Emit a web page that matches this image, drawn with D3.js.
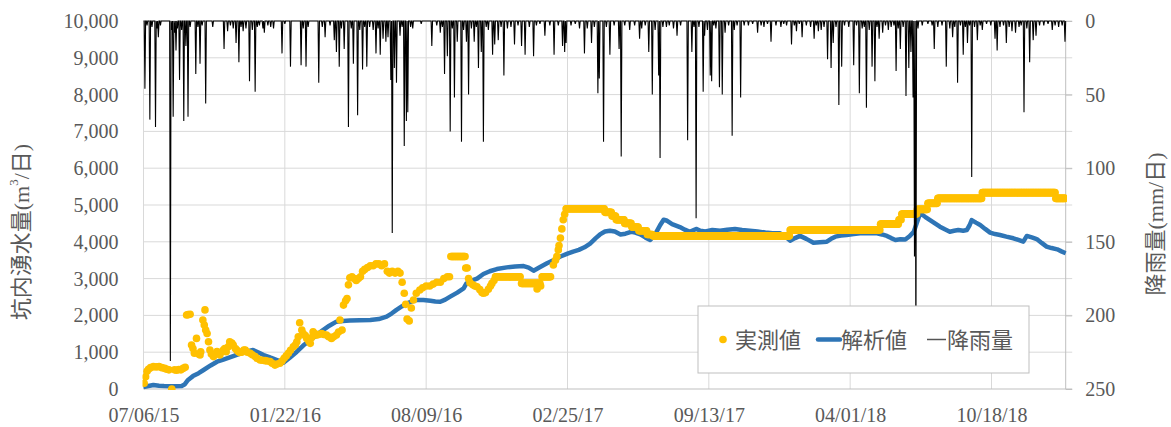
<!DOCTYPE html>
<html>
<head>
<meta charset="utf-8">
<script src="https://cdn.jsdelivr.net/npm/d3@7"></script>
<style>
  body { margin: 0; background: #fff; }
</style>
</head>
<body>
<script>
// chart size
const width = 1171;
const height = 427;
const margin = {left: 143.5, right: 1171 - 1065.7, top: 21, bottom: 427 - 389};

// first day of the record, all days below count from here
const startDay = "2015-07-06";
const endDay = "2019-01-31";
const tickDates = ["2015-07-06", "2016-01-22", "2016-08-09", "2017-02-25", "2017-09-13", "2018-04-01", "2018-10-18"];
const leftTicks = [0, 1000, 2000, 3000, 4000, 5000, 6000, 7000, 8000, 9000, 10000];
const rightTicks = [0, 50, 100, 150, 200, 250];
const legendItems = ["実測値", "解析値", "降雨量"];

// 実測値 : single readings [day, m3/day]
const measuredPoints = [
  [1,155],[3,330],[5,480],[7,535],[10,580],[14,607],[18,600],[22,607],[26,580],[30,560],[33,535],[36,520],[40,0],[44,520],[47,510],[50,530],[53,520],[56,560],[59,590],
  [61,2010],[63,2020],[66,2030],[68,1195],[70,1100],[72,970],[75,1375],[78,950],[80,925],[81,1010],[84,1875],[86,1740],[87,2150],[88,1600],[90,1510],[92,1285],[94,1060],[96,950],[99,880],
  [101,950],[104,1015],[106,980],[108,925],[110,1000],[113,1060],[115,1100],[117,1015],[120,1150],[122,1285],[125,1250],[127,1195],[130,1100],[132,1060],[134,1020],[136,990],[139,1000],
  [142,1060],[144,1060],[147,1000],[151,970],[154,930],[158,880],[161,830],[165,790],[168,780],[172,770],[175,760],[179,745],[182,700],[186,650],[189,680],[193,700],[196,760],[199,835],
  [202,900],[205,970],[208,1050],[212,1150],[215,1200],[217,1285],[219,1420],[221,1800],[224,1600],[226,1510],[229,1450],[231,1375],[234,1300],[236,1240],[238,1400],[240,1555],[243,1500],
  [245,1465],[248,1480],[252,1510],[255,1480],[259,1465],[262,1420],[266,1375],[269,1420],[273,1465],[276,1550],[278,1875],[281,1600],[283,2280],[286,2400],[288,2460],
  [290,2830],[292,3020],[295,3050],[298,3000],[301,2950],[304,3000],[307,3050],[310,3200],[313,3250],[317,3300],[321,3350],[325,3350],[329,3400],[333,3400],[337,3350],[341,3400],
  [345,3200],[348,3150],[352,3200],[356,3150],[360,3200],[363,3150],[366,2900],[369,2600],[371,2300],[373,1900],[376,1850],[379,2200],[382,2420],[386,2600],[391,2690],[395,2750],
  [400,2800],[405,2800],[410,2850],[415,2900],[420,2900],[425,3000],[430,3050],[433,3050],
  [456,3290],[458,3290],[460,3000],[462,2890],[466,2830],[469,2800],[472,2780],[476,2700],[479,2620],[481,2600],[484,2620],[488,2710],[491,2800],[493,2870],[496,2950],
  [557,2720],[562,2800],[580,3370],[583,3500],[585,3600],[587,3780],[588,3900],[590,4100],[592,4350],[594,4600],[596,4750]
];
// 実測値 : flat runs [first day, last day, m3/day]
const measuredRuns = [
  [435,455,3600],[498,533,3050],[535,561,2870],[564,576,3050],[598,652,4900],[653,662,4800],[663,668,4700],
  [669,680,4600],[681,690,4500],[691,700,4400],[701,712,4300],[713,720,4200],[721,914,4160],[915,1042,4320],
  [1043,1068,4480],[1069,1072,4600],[1073,1094,4755],[1095,1109,4880],[1110,1123,5045],[1124,1186,5180],
  [1187,1290,5335],[1291,1305,5180]
];

// 解析値 [day, m3/day]
const simulated = [
  [0,50],[7,80],[14,110],[22,90],[29,80],[40,75],[54,80],[58,120],[63,245],[70,350],[78,430],[85,516],[95,640],[104,742],[113,800],[122,860],[131,920],[141,987],[148,1030],[155,1060],
  [162,1000],[170,924],[180,850],[189,788],[198,715],[207,850],[217,1014],[226,1180],[236,1330],[245,1470],[254,1600],[263,1720],[273,1830],[282,1850],[292,1860],[306,1870],[321,1875],
  [333,1900],[344,1965],[351,2050],[358,2150],[366,2250],[373,2330],[380,2380],[387,2420],[396,2420],[406,2400],[413,2380],[420,2370],[427,2430],[434,2510],[444,2620],[453,2735],
  [457,2870],[465,2950],[472,3000],[481,3125],[490,3200],[500,3260],[514,3305],[526,3330],[538,3340],[545,3300],[552,3215],[560,3300],[571,3415],[580,3500],[590,3600],[600,3680],
  [608,3735],[616,3780],[624,3850],[632,3950],[640,4100],[646,4200],[653,4280],[660,4300],[667,4280],[675,4200],[682,4220],[690,4270],[696,4250],[703,4200],[710,4120],[717,4050],
  [724,4200],[731,4450],[736,4600],[740,4580],[748,4480],[759,4400],[766,4330],[773,4270],[782,4350],[788,4300],[795,4280],[805,4320],[816,4300],[826,4330],[837,4350],[847,4320],
  [858,4300],[869,4280],[880,4250],[890,4230],[901,4230],[908,4150],[915,4030],[922,4100],[929,4160],[938,4080],[948,3975],[957,3990],[967,4003],[973,4080],[979,4140],[987,4170],
  [995,4185],[1005,4210],[1014,4230],[1025,4230],[1038,4230],[1045,4200],[1052,4160],[1058,4100],[1064,4050],[1071,4070],[1078,4060],[1084,4150],[1090,4275],[1094,4500],[1099,4775],
  [1106,4680],[1113,4590],[1120,4500],[1127,4410],[1134,4340],[1141,4275],[1147,4300],[1153,4320],[1160,4300],[1165,4320],[1169,4450],[1172,4590],[1178,4520],[1184,4455],[1191,4350],
  [1198,4250],[1205,4210],[1212,4185],[1221,4140],[1231,4095],[1238,4050],[1245,4005],[1250,4160],[1257,4120],[1264,4075],[1271,3970],[1278,3870],[1285,3830],[1293,3795],[1299,3740],[1305,3690]
];

// 降雨量 : rainy days [day, mm/day], every other day is 0
const rainDays = [
  [2,46],[5,3],[9,67],[12,4],[17,72],[19,5],[21,11],[24,3],[38,231],[40,6],[42,65],[44,8],[46,20],[48,5],[51,40],[54,6],[57,68],[60,17],[63,65],[66,4],[74,36],[77,4],[80,29],[83,3],[88,56],
  [98,4],[114,19],[119,7],[123,3],[127,5],[131,15],[135,28],[138,4],[141,7],[145,5],[150,41],[154,6],[158,48],[161,4],[164,3],[169,5],[171,8],[176,3],[180,4],[184,5],[196,22],[200,2],
  [208,31],[223,30],[226,5],[230,31],[233,4],[248,42],[253,4],[257,11],[264,3],[270,13],[273,21],[277,31],[280,5],[284,19],[290,72],[294,5],[297,29],[303,64],[306,6],[310,33],[313,4],
  [316,31],[320,4],[325,6],[329,22],[332,5],[335,23],[339,12],[343,14],[346,11],[350,40],[352,144],[355,32],[358,42],[363,10],[366,4],[369,85],[372,68],[374,62],[378,4],[381,5],[393,2],
  [408,17],[415,3],[420,8],[423,4],[426,36],[430,24],[434,75],[437,5],[440,52],[444,14],[450,82],[453,6],[457,14],[460,50],[464,5],[468,14],[471,4],[474,32],[478,21],[481,82],[485,4],
  [488,6],[494,23],[497,16],[502,13],[506,4],[510,37],[515,5],[520,4],[525,16],[530,3],[535,17],[540,23],[546,4],[552,24],[556,3],[561,2],[568,10],[575,3],[581,23],[587,3],[593,17],
  [596,21],[598,15],[605,3],[611,2],[617,5],[624,22],[628,5],[634,15],[638,4],[643,49],[645,39],[651,82],[655,4],[660,23],[666,3],[673,19],[676,92],[681,3],[688,6],[695,3],[702,12],
  [705,5],[710,3],[715,21],[720,50],[724,6],[729,37],[731,93],[735,4],[740,4],[744,3],[750,5],[755,10],[760,3],[770,81],[776,21],[779,4],[782,134],[786,4],[792,48],[794,10],[798,6],
  [802,37],[804,41],[807,3],[810,5],[815,45],[819,50],[823,8],[828,3],[833,78],[836,6],[840,3],[845,52],[850,3],[856,3],[862,2],[869,8],[874,3],[878,4],[883,2],[888,14],[895,3],
  [902,4],[906,2],[910,3],[917,16],[921,3],[924,7],[928,2],[932,11],[938,3],[944,4],[949,12],[952,3],[955,7],[959,6],[963,4],[968,26],[973,32],[976,15],[980,4],[984,57],[988,31],
  [992,3],[998,4],[1005,30],[1009,3],[1013,49],[1017,5],[1020,4],[1023,59],[1027,6],[1031,31],[1035,41],[1038,4],[1041,12],[1046,8],[1050,3],[1054,6],[1058,4],[1062,3],[1065,34],
  [1068,5],[1071,19],[1075,4],[1079,51],[1083,32],[1086,21],[1089,52],[1091,160],[1093,230],[1096,5],[1102,3],[1110,2],[1116,3],[1119,19],[1124,4],[1130,3],[1136,31],[1141,5],
  [1145,11],[1148,4],[1152,42],[1156,3],[1160,23],[1163,4],[1166,15],[1169,3],[1172,106],[1176,4],[1180,13],[1184,3],[1187,6],[1193,2],[1199,3],[1205,12],[1208,20],[1212,4],
  [1217,3],[1221,15],[1225,4],[1229,7],[1234,8],[1239,4],[1242,3],[1246,62],[1250,5],[1254,28],[1259,13],[1263,10],[1268,3],[1274,3],[1280,2],[1286,6],[1290,3],[1295,4],[1300,3],[1304,14]
];

const colors = {measured: "#FFC000", simulated: "#2E75B6", rain: "#000000", grid: "#D9D9D9", axis: "#BFBFBF", text: "#595959"};
const serif = "'Liberation Serif', serif";
const jp = "'Liberation Serif', 'Noto Sans CJK JP', serif";

document.addEventListener('DOMContentLoaded', function() {
  const t0 = new Date(startDay + "T00:00:00Z");
  const dayToDate = (d) => new Date(t0.getTime() + d * 864e5);
  const nDays = Math.round((new Date(endDay + "T00:00:00Z") - t0) / 864e5);

  const x = d3.scaleUtc()
    .domain([t0, new Date(endDay + "T00:00:00Z")])
    .range([margin.left, width - margin.right]);
  const yL = d3.scaleLinear().domain([0, 10000]).range([height - margin.bottom, margin.top]);
  const yR = d3.scaleLinear().domain([0, 250]).range([margin.top, height - margin.bottom]);

  const svg = d3.select('body').append('svg')
    .attr("width", width)
    .attr("height", height);

  svg.append("defs").append("clipPath").attr("id", "plot-clip")
    .append("rect")
    .attr("x", margin.left - 1).attr("y", margin.top - 1)
    .attr("width", width - margin.right - margin.left + 2)
    .attr("height", height - margin.bottom - margin.top + 2);

  // gridlines
  svg.append("g").selectAll("line.hgrid")
    .data(leftTicks.slice(1))
    .enter().append("line")
    .attr("x1", margin.left).attr("x2", width - margin.right + 6.5)
    .attr("y1", d => yL(d)).attr("y2", d => yL(d))
    .attr("stroke", colors.grid).attr("stroke-width", 1);

  svg.append("g").selectAll("line.vgrid")
    .data(tickDates)
    .enter().append("line")
    .attr("x1", d => x(new Date(d + "T00:00:00Z"))).attr("x2", d => x(new Date(d + "T00:00:00Z")))
    .attr("y1", margin.top).attr("y2", height - margin.bottom)
    .attr("stroke", colors.grid).attr("stroke-width", 1);

  // axis lines
  svg.append("line")
    .attr("x1", margin.left).attr("x2", width - margin.right + 6.5)
    .attr("y1", yL(0)).attr("y2", yL(0))
    .attr("stroke", colors.axis);
  svg.append("line")
    .attr("x1", width - margin.right).attr("x2", width - margin.right)
    .attr("y1", margin.top).attr("y2", height - margin.bottom)
    .attr("stroke", colors.axis);

  // axes labels with d3 axis generators
  const fmt = d3.format(",");
  const leftAxis = svg.append("g")
    .attr("transform", `translate(${margin.left},0)`)
    .call(d3.axisLeft(yL).tickValues(leftTicks).tickFormat(fmt).tickSize(0).tickPadding(25));
  const rightAxis = svg.append("g")
    .attr("transform", `translate(${width - margin.right},0)`)
    .call(d3.axisRight(yR).tickValues(rightTicks).tickSize(6.5).tickPadding(13));
  const bottomAxis = svg.append("g")
    .attr("transform", `translate(0,${height - margin.bottom})`)
    .call(d3.axisBottom(x).tickValues(tickDates.map(d => new Date(d + "T00:00:00Z")))
      .tickFormat(d3.utcFormat("%m/%d/%y")).tickSize(0).tickPadding(19));

  [leftAxis, rightAxis, bottomAxis].forEach(g => {
    g.attr("font-family", serif).attr("font-size", 20);
    g.select(".domain").remove();
    g.selectAll("text")
      .attr("fill", colors.text)
      .style("font-family", serif)
      .style("font-size", "20px");
  });
  rightAxis.selectAll("line").attr("stroke", colors.axis);

  // axis titles
  svg.append("text")
    .attr("transform", `translate(21,232) rotate(-90)`)
    .attr("text-anchor", "middle").attr("dominant-baseline", "central")
    .attr("fill", colors.text)
    .style("font-family", jp).style("font-size", "22px")
    .html('坑内湧水量(m<tspan baseline-shift="super" font-size="13">3</tspan>/日)');
  svg.append("text")
    .attr("transform", `translate(1155,224) rotate(-90)`)
    .attr("text-anchor", "middle").attr("dominant-baseline", "central")
    .attr("fill", colors.text)
    .style("font-family", jp).style("font-size", "22px")
    .text("降雨量(mm/日)");

  const plot = svg.append("g").attr("clip-path", "url(#plot-clip)");

  // simulated line
  plot.append("path")
    .datum(simulated)
    .attr("fill", "none")
    .attr("stroke", colors.simulated)
    .attr("stroke-width", 4.5)
    .attr("stroke-linejoin", "round")
    .attr("d", d3.line().x(d => x(dayToDate(d[0]))).y(d => yL(d[1])));

  // measured dots
  const measured = measuredPoints.slice();
  measuredRuns.forEach(([a, b, v]) => {
    for (let d = a; d <= b; d++) measured.push([d, v]);
  });
  plot.selectAll("circle.measured")
    .data(measured)
    .enter().append("circle")
    .attr("class", "measured")
    .attr("cx", d => x(dayToDate(d[0])))
    .attr("cy", d => yL(d[1]))
    .attr("r", 3.8)
    .attr("fill", colors.measured);

  // rainfall (daily, zero on dry days)
  const rainMap = new Map(rainDays);
  const rain = d3.range(0, nDays + 1).map(d => [d, rainMap.get(d) || 0]);
  plot.append("path")
    .datum(rain)
    .attr("fill", "none")
    .attr("stroke", colors.rain)
    .attr("stroke-width", 1.1)
    .attr("d", d3.line().x(d => x(dayToDate(d[0]))).y(d => yR(d[1])));

  // legend
  const lg = svg.append("g");
  lg.append("rect")
    .attr("x", 698).attr("y", 306).attr("width", 331).attr("height", 67)
    .attr("fill", "#fff").attr("stroke", colors.axis);
  lg.append("circle").attr("cx", 723).attr("cy", 339.5).attr("r", 3.8).attr("fill", colors.measured);
  lg.append("line").attr("x1", 818).attr("x2", 840).attr("y1", 339.5).attr("y2", 339.5)
    .attr("stroke", colors.simulated).attr("stroke-width", 4.5).attr("stroke-linecap", "round");
  lg.append("line").attr("x1", 927).attr("x2", 946).attr("y1", 339.5).attr("y2", 339.5)
    .attr("stroke", "#555").attr("stroke-width", 1.5);
  const lx = [735, 841, 947];
  lg.selectAll("text.legend")
    .data(legendItems)
    .enter().append("text")
    .attr("x", (d, i) => lx[i]).attr("y", 340)
    .attr("dominant-baseline", "central")
    .attr("fill", colors.text)
    .style("font-family", jp).style("font-size", "22px")
    .text(d => d);
});
</script>
</body>
</html>
